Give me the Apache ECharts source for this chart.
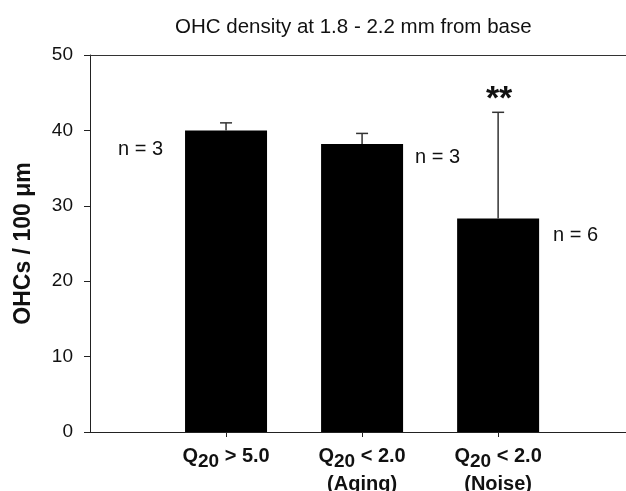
<!DOCTYPE html>
<html>
<head>
<meta charset="utf-8">
<script src="https://cdn.jsdelivr.net/npm/echarts@6/dist/echarts.min.js"></script>
<style>
  html, body { margin: 0; padding: 0; background: #fff; }
  #chart { width: 626px; height: 491px; }
</style>
</head>
<body>
<div id="chart"></div>
<script>
// group positions on the x axis and their labels
var groupPos = [1, 2, 3];
var groupNames = ['{q|Q}{sub|20}{q| > 5.0}', '{q|Q}{sub|20}{q| < 2.0}\n{q|(Aging)}', '{q|Q}{sub|20}{q| < 2.0}\n{q|(Noise)}'];
// mean OHC density and top of error bar
var means = [40.0, 38.2, 28.3];
var upper = [41.0, 39.6, 42.4];
var nLabels = ['n = 3', 'n = 3', 'n = 6'];
var signif = ['', '', '**'];
var yTicks = [0, 10, 20, 30, 40, 50];

var font = '"Liberation Sans", Arial, sans-serif';
// where each n label sits relative to its bar (styling)
var nLabelPos = [
    { position: [-22, 19], align: 'right' },
    { position: [94, 14], align: 'left' },
    { position: [96, 17], align: 'left' }
];

var barData = [];
var errData = [];
for (var i = 0; i < means.length; i++) {
    barData.push({
        value: [groupPos[i], means[i]],
        label: {
            show: true,
            formatter: nLabels[i],
            position: nLabelPos[i].position,
            align: nLabelPos[i].align,
            verticalAlign: 'middle',
            color: '#111',
            fontFamily: font,
            fontSize: 20
        }
    });
    errData.push([groupPos[i], means[i], upper[i], i]);
}

var chart = echarts.init(document.getElementById('chart'));
chart.setOption({
    backgroundColor: '#fff',
    animation: false,
    title: {
        text: 'OHC density at 1.8 - 2.2 mm from base',
        left: 170,
        top: 12,
        textStyle: { fontFamily: font, fontSize: 20.5, fontWeight: 'normal', color: '#111' }
    },
    grid: { left: 90, right: 0, top: 55, bottom: 59, outerBoundsMode: 'none', containLabel: false },
    xAxis: [{
        type: 'value',
        min: 0,
        max: 3.94,
        splitLine: { show: false },
        axisLine: { show: true, onZero: false, lineStyle: { color: '#222', width: 1 } },
        axisTick: { show: true, customValues: groupPos, length: 5, lineStyle: { color: '#222' } },
        axisLabel: {
            customValues: groupPos,
            margin: 14,
            formatter: function (v) {
                return groupNames[groupPos.indexOf(v)];
            },
            fontFamily: font,
            fontSize: 20,
            fontWeight: 'bold',
            color: '#111',
            lineHeight: 28,
            rich: {
                q: { fontFamily: font, fontSize: 20, fontWeight: 'bold', color: '#111', lineHeight: 28, verticalAlign: 'top' },
                sub: { fontFamily: font, fontSize: 19, fontWeight: 'bold', color: '#111', lineHeight: 28, verticalAlign: 'top', padding: [6, 0, 0, 0] }
            }
        }
    }, {
        type: 'value',
        position: 'top',
        min: 0,
        max: 3.94,
        splitLine: { show: false },
        axisLine: { show: true, onZero: false, lineStyle: { color: '#333', width: 1 } },
        axisTick: { show: false },
        axisLabel: { show: false }
    }],
    yAxis: {
        type: 'value',
        min: 0,
        max: 50,
        interval: 10,
        name: 'OHCs / 100 μm',
        nameLocation: 'middle',
        nameGap: 55,
        nameTextStyle: { fontFamily: font, fontSize: 23, fontWeight: 'bold', color: '#111' },
        splitLine: { show: false },
        axisLine: { show: true, lineStyle: { color: '#222', width: 1 } },
        axisTick: { show: true, length: 6, lineStyle: { color: '#222' } },
        axisLabel: {
            margin: 17,
            fontFamily: font,
            fontSize: 19,
            color: '#111',
            formatter: function (v) { return yTicks.indexOf(v) >= 0 ? String(v) : ''; }
        }
    },
    series: [{
        type: 'bar',
        xAxisIndex: 0,
        barWidth: 82,
        itemStyle: { color: '#000' },
        data: barData
    }, {
        type: 'custom',
        xAxisIndex: 0,
        encode: { x: 0, y: [1, 2] },
        renderItem: function (params, api) {
            var x = api.value(0);
            var base = api.coord([x, api.value(1)]);
            var top = api.coord([x, api.value(2)]);
            var star = signif[api.value(3)];
            var kids = [{
                type: 'line',
                shape: { x1: base[0], y1: base[1], x2: top[0], y2: top[1] },
                style: { stroke: '#333', lineWidth: 1.5 }
            }, {
                type: 'line',
                shape: { x1: top[0] - 6, y1: top[1], x2: top[0] + 6, y2: top[1] },
                style: { stroke: '#333', lineWidth: 1.5 }
            }];
            if (star) {
                kids.push({
                    type: 'text',
                    x: top[0] + 1,
                    y: top[1] + 4,
                    style: {
                        text: star,
                        fontFamily: font,
                        fontSize: 34,
                        fontWeight: 'bold',
                        fill: '#111',
                        align: 'center',
                        verticalAlign: 'bottom'
                    }
                });
            }
            return { type: 'group', children: kids };
        },
        data: errData,
        z: 3
    }]
});
</script>
</body>
</html>
